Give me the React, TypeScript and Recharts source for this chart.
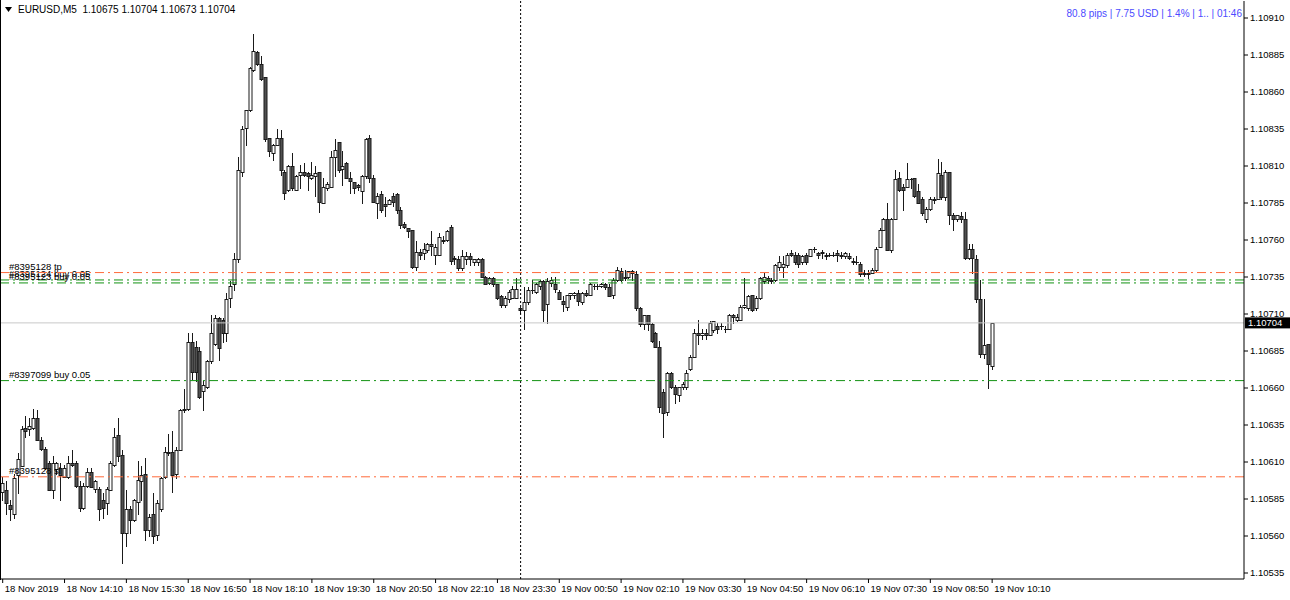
import React from 'react';
import { ComposedChart, Bar, XAxis, YAxis, ReferenceLine } from 'recharts';

// ---- data: EURUSD M5, one entry per bar (bar 0 = 18 Nov 12:50) ----
const opens = [
1.10590,1.10591,1.10581,1.10575,1.10601,1.10607,1.10633,1.10632,1.10633,1.10640,
1.10625,1.10619,1.10609,1.10591,1.10605,1.10606,1.10600,1.10600,1.10609,1.10609,
1.10594,1.10579,1.10594,1.10603,1.10592,1.10592,1.10584,1.10582,1.10591,1.10608,
1.10628,1.10615,1.10562,1.10578,1.10571,1.10583,1.10597,1.10602,1.10564,1.10575,
1.10561,1.10578,1.10600,1.10617,1.10617,1.10602,1.10618,1.10645,1.10646,1.10691,
1.10688,1.10685,1.10658,1.10661,1.10678,1.10690,1.10707,1.10706,1.10697,1.10721,
1.10730,1.10747,1.10806,1.10836,1.10848,1.10875,1.10887,1.10879,1.10870,1.10829,
1.10819,1.10824,1.10829,1.10806,1.10794,1.10810,1.10794,1.10804,1.10806,1.10805,
1.10802,1.10803,1.10806,1.10785,1.10795,1.10796,1.10816,1.10826,1.10808,1.10812,
1.10802,1.10799,1.10797,1.10793,1.10803,1.10829,1.10802,1.10785,1.10791,1.10784,
1.10784,1.10790,1.10791,1.10780,1.10771,1.10768,1.10767,1.10742,1.10752,1.10751,
1.10753,1.10757,1.10750,1.10750,1.10760,1.10760,1.10769,1.10748,1.10747,1.10741,
1.10747,1.10749,1.10745,1.10745,1.10747,1.10735,1.10731,1.10734,1.10730,1.10722,
1.10716,1.10720,1.10721,1.10721,1.10714,1.10713,1.10718,1.10726,1.10725,1.10729,
1.10732,1.10717,1.10731,1.10730,1.10725,1.10719,1.10715,1.10723,1.10723,1.10724,
1.10718,1.10724,1.10723,1.10729,1.10729,1.10729,1.10730,1.10728,1.10723,1.10733,
1.10739,1.10735,1.10735,1.10739,1.10737,1.10714,1.10703,1.10709,1.10703,1.10697,
1.10688,1.10657,1.10644,1.10670,1.10661,1.10655,1.10661,1.10661,1.10673,1.10681,
1.10697,1.10696,1.10697,1.10696,1.10699,1.10702,1.10702,1.10700,1.10700,1.10709,
1.10706,1.10706,1.10715,1.10714,1.10723,1.10714,1.10721,1.10732,1.10734,1.10733,
1.10733,1.10742,1.10742,1.10743,1.10751,1.10750,1.10750,1.10745,1.10750,1.10749,
1.10754,1.10751,1.10751,1.10750,1.10750,1.10750,1.10751,1.10750,1.10749,1.10749,
1.10746,1.10745,1.10744,1.10738,1.10738,1.10738,1.10740,1.10755,1.10767,1.10774,
1.10753,1.10774,1.10802,1.10796,1.10796,1.10801,1.10802,1.10793,1.10788,1.10774,
1.10781,1.10788,1.10788,1.10804,1.10789,1.10806,1.10777,1.10774,1.10776,1.10774,
1.10748,1.10754,1.10747,1.10720,1.10683,1.10690,1.10675];

const highs = [
1.10600,1.10597,1.10584,1.10602,1.10616,1.10634,1.10641,1.10640,1.10646,1.10645,
1.10627,1.10620,1.10611,1.10614,1.10610,1.10609,1.10608,1.10614,1.10618,1.10611,
1.10597,1.10596,1.10606,1.10606,1.10598,1.10593,1.10589,1.10593,1.10611,1.10633,
1.10640,1.10618,1.10591,1.10580,1.10585,1.10611,1.10607,1.10613,1.10575,1.10589,
1.10584,1.10600,1.10620,1.10629,1.10631,1.10620,1.10646,1.10659,1.10697,1.10697,
1.10692,1.10688,1.10665,1.10679,1.10709,1.10709,1.10708,1.10707,1.10724,1.10732,
1.10751,1.10816,1.10837,1.10848,1.10877,1.10899,1.10888,1.10884,1.10870,1.10829,
1.10825,1.10835,1.10834,1.10807,1.10811,1.10819,1.10804,1.10811,1.10812,1.10806,
1.10813,1.10810,1.10806,1.10802,1.10799,1.10820,1.10828,1.10826,1.10820,1.10813,
1.10806,1.10799,1.10798,1.10804,1.10829,1.10831,1.10804,1.10792,1.10793,1.10789,
1.10788,1.10792,1.10792,1.10782,1.10772,1.10768,1.10767,1.10759,1.10754,1.10758,
1.10758,1.10766,1.10757,1.10765,1.10763,1.10767,1.10770,1.10749,1.10749,1.10753,
1.10752,1.10751,1.10747,1.10748,1.10748,1.10736,1.10735,1.10735,1.10730,1.10723,
1.10722,1.10726,1.10729,1.10734,1.10715,1.10728,1.10728,1.10733,1.10731,1.10733,
1.10733,1.10734,1.10735,1.10735,1.10726,1.10722,1.10723,1.10724,1.10725,1.10726,
1.10725,1.10726,1.10731,1.10730,1.10730,1.10731,1.10731,1.10730,1.10734,1.10742,
1.10741,1.10740,1.10739,1.10740,1.10739,1.10715,1.10709,1.10709,1.10704,1.10698,
1.10692,1.10659,1.10671,1.10671,1.10662,1.10661,1.10664,1.10672,1.10682,1.10700,
1.10706,1.10700,1.10700,1.10705,1.10705,1.10704,1.10704,1.10702,1.10710,1.10710,
1.10710,1.10716,1.10734,1.10723,1.10723,1.10722,1.10735,1.10738,1.10736,1.10734,
1.10744,1.10749,1.10749,1.10751,1.10753,1.10752,1.10751,1.10750,1.10751,1.10754,
1.10755,1.10752,1.10753,1.10751,1.10751,1.10752,1.10753,1.10752,1.10752,1.10751,
1.10748,1.10749,1.10745,1.10740,1.10740,1.10741,1.10755,1.10768,1.10775,1.10785,
1.10775,1.10807,1.10806,1.10798,1.10812,1.10802,1.10802,1.10798,1.10789,1.10782,
1.10789,1.10789,1.10815,1.10813,1.10807,1.10806,1.10778,1.10777,1.10779,1.10779,
1.10757,1.10757,1.10750,1.10733,1.10720,1.10690,1.10704];

const lows = [
1.10584,1.10575,1.10571,1.10572,1.10589,1.10607,1.10627,1.10628,1.10632,1.10625,
1.10618,1.10605,1.10591,1.10586,1.10602,1.10584,1.10600,1.10599,1.10607,1.10593,
1.10577,1.10578,1.10593,1.10593,1.10590,1.10571,1.10572,1.10575,1.10591,1.10607,
1.10611,1.10542,1.10553,1.10562,1.10570,1.10575,1.10584,1.10557,1.10560,1.10555,
1.10557,1.10577,1.10599,1.10615,1.10590,1.10599,1.10618,1.10644,1.10645,1.10666,
1.10665,1.10653,1.10645,1.10660,1.10677,1.10689,1.10679,1.10691,1.10692,1.10715,
1.10726,1.10745,1.10803,1.10824,1.10847,1.10874,1.10878,1.10868,1.10827,1.10817,
1.10814,1.10824,1.10804,1.10788,1.10793,1.10794,1.10794,1.10795,1.10803,1.10794,
1.10801,1.10790,1.10779,1.10785,1.10794,1.10796,1.10803,1.10806,1.10797,1.10802,
1.10792,1.10792,1.10794,1.10785,1.10802,1.10799,1.10786,1.10775,1.10779,1.10776,
1.10784,1.10783,1.10778,1.10768,1.10768,1.10762,1.10741,1.10740,1.10747,1.10747,
1.10752,1.10750,1.10744,1.10750,1.10758,1.10759,1.10744,1.10744,1.10740,1.10740,
1.10744,1.10743,1.10743,1.10743,1.10735,1.10730,1.10730,1.10729,1.10720,1.10715,
1.10715,1.10718,1.10721,1.10721,1.10711,1.10700,1.10717,1.10724,1.10724,1.10727,
1.10705,1.10704,1.10729,1.10725,1.10720,1.10712,1.10713,1.10720,1.10721,1.10716,
1.10717,1.10722,1.10723,1.10727,1.10727,1.10728,1.10727,1.10722,1.10721,1.10732,
1.10732,1.10733,1.10734,1.10733,1.10713,1.10702,1.10700,1.10699,1.10691,1.10688,
1.10644,1.10627,1.10642,1.10660,1.10650,1.10651,1.10659,1.10659,1.10672,1.10681,
1.10690,1.10693,1.10693,1.10696,1.10698,1.10697,1.10700,1.10698,1.10700,1.10704,
1.10705,1.10706,1.10714,1.10713,1.10712,1.10713,1.10720,1.10731,1.10731,1.10731,
1.10732,1.10740,1.10735,1.10742,1.10749,1.10744,1.10742,1.10744,1.10744,1.10749,
1.10752,1.10748,1.10748,1.10747,1.10749,1.10749,1.10746,1.10748,1.10748,1.10747,
1.10744,1.10744,1.10736,1.10736,1.10734,1.10738,1.10739,1.10755,1.10767,1.10753,
1.10752,1.10774,1.10793,1.10780,1.10796,1.10795,1.10789,1.10785,1.10777,1.10772,
1.10780,1.10785,1.10788,1.10788,1.10787,1.10771,1.10767,1.10773,1.10772,1.10747,
1.10747,1.10738,1.10718,1.10681,1.10680,1.10660,1.10673];

const closes = [
1.10596,1.10582,1.10578,1.10599,1.10612,1.10632,1.10631,1.10634,1.10640,1.10625,
1.10619,1.10606,1.10591,1.10609,1.10609,1.10601,1.10606,1.10609,1.10608,1.10594,
1.10579,1.10594,1.10603,1.10593,1.10597,1.10578,1.10579,1.10592,1.10609,1.10627,
1.10614,1.10562,1.10578,1.10571,1.10584,1.10598,1.10601,1.10564,1.10573,1.10560,
1.10582,1.10599,1.10617,1.10616,1.10601,1.10618,1.10645,1.10646,1.10691,1.10671,
1.10671,1.10654,1.10662,1.10678,1.10697,1.10707,1.10687,1.10697,1.10720,1.10729,
1.10747,1.10807,1.10835,1.10848,1.10876,1.10888,1.10879,1.10869,1.10828,1.10820,
1.10824,1.10829,1.10807,1.10792,1.10810,1.10795,1.10803,1.10806,1.10804,1.10803,
1.10804,1.10805,1.10786,1.10796,1.10798,1.10816,1.10821,1.10807,1.10810,1.10802,
1.10800,1.10795,1.10796,1.10803,1.10828,1.10802,1.10786,1.10790,1.10780,1.10783,
1.10787,1.10786,1.10780,1.10770,1.10769,1.10766,1.10742,1.10752,1.10750,1.10754,
1.10757,1.10756,1.10755,1.10762,1.10759,1.10766,1.10746,1.10747,1.10741,1.10749,
1.10749,1.10747,1.10747,1.10747,1.10735,1.10730,1.10734,1.10730,1.10721,1.10716,
1.10721,1.10725,1.10727,1.10727,1.10713,1.10718,1.10726,1.10726,1.10730,1.10732,
1.10713,1.10732,1.10733,1.10727,1.10720,1.10717,1.10723,1.10724,1.10724,1.10719,
1.10724,1.10723,1.10730,1.10729,1.10729,1.10730,1.10728,1.10722,1.10733,1.10740,
1.10733,1.10734,1.10739,1.10738,1.10714,1.10703,1.10709,1.10703,1.10692,1.10688,
1.10647,1.10643,1.10670,1.10661,1.10656,1.10661,1.10663,1.10670,1.10681,1.10697,
1.10696,1.10697,1.10696,1.10704,1.10705,1.10700,1.10702,1.10700,1.10709,1.10708,
1.10708,1.10715,1.10716,1.10722,1.10713,1.10721,1.10734,1.10735,1.10733,1.10732,
1.10743,1.10745,1.10744,1.10750,1.10750,1.10745,1.10744,1.10749,1.10745,1.10754,
1.10754,1.10750,1.10752,1.10749,1.10750,1.10750,1.10750,1.10749,1.10751,1.10748,
1.10745,1.10745,1.10737,1.10737,1.10737,1.10740,1.10754,1.10767,1.10774,1.10753,
1.10774,1.10801,1.10794,1.10794,1.10801,1.10801,1.10790,1.10785,1.10778,1.10781,
1.10788,1.10787,1.10805,1.10789,1.10806,1.10777,1.10774,1.10777,1.10774,1.10748,
1.10754,1.10748,1.10720,1.10683,1.10689,1.10676,1.10704];

const xTickBars = [0, 16, 32, 48, 64, 80, 96, 112, 128, 144, 160, 176, 192, 208, 224, 240, 256];
const xTickLabels = [
  '18 Nov 2019', '18 Nov 14:10', '18 Nov 15:30', '18 Nov 16:50', '18 Nov 18:10',
  '18 Nov 19:30', '18 Nov 20:50', '18 Nov 22:10', '18 Nov 23:30', '19 Nov 00:50',
  '19 Nov 02:10', '19 Nov 03:30', '19 Nov 04:50', '19 Nov 06:10', '19 Nov 07:30',
  '19 Nov 08:50', '19 Nov 10:10',
];
const yTicks = [
  1.10535, 1.1056, 1.10585, 1.1061, 1.10635, 1.1066, 1.10685, 1.1071,
  1.10735, 1.1076, 1.10785, 1.1081, 1.10835, 1.1086, 1.10885, 1.1091,
];

// order lines
const tpLevels = [1.10738];
const tpLabels = ['#8395128 tp'];
const buyLevels = [1.10733, 1.10731, 1.10665];
const buyLabels = ['#8395124 buy 0.05', '#8395123 buy 0.05', '#8397099 buy 0.05'];
const slLevels = [1.106];
const slLabels = ['#8395128 sl'];
const bidPrice = 1.10704;
const daySeparatorBar = 134; // 19 Nov 00:00

const title = 'EURUSD,M5  1.10675 1.10704 1.10673 1.10704';
const info = '80.8 pips | 7.75 USD | 1.4% | 1.. | 01:46';

const data = opens.map((o, i) => ({
  i,
  o,
  h: highs[i],
  l: lows[i],
  c: closes[i],
  range: [lows[i], highs[i]],
}));

const FONT = "'Liberation Sans', Arial, sans-serif";
const ORANGE = '#ff6a3a';
const GREEN = '#139213';
const DASHDOT = '9 4 2 4';

function Candle(props: any) {
  const { x, y, width, height, payload } = props;
  if (x == null || y == null || !payload) return null;
  const top = Math.min(y, y + height);
  const bot = Math.max(y, y + height);
  const { o, h, l, c } = payload;
  const span = h - l;
  const k = span > 0 ? (bot - top) / span : 0;
  const py = (p: number) => top + (h - p) * k;
  const cx = Math.round(x + width / 2) + 0.5;
  const bTop = Math.round(py(Math.max(o, c))) + 0.5;
  const bBot = Math.round(py(Math.min(o, c))) + 0.5;
  const bull = c >= o;
  return (
    <g>
      <line x1={cx} x2={cx} y1={Math.round(top)} y2={Math.round(bot) + 1} stroke="#1a1a1a" strokeWidth={1} shapeRendering="crispEdges" />
      {bBot - bTop < 1 ? (
        <line x1={cx - 2} x2={cx + 2} y1={bTop} y2={bTop} stroke="#1a1a1a" strokeWidth={1} shapeRendering="crispEdges" />
      ) : (
        <rect x={cx - 1.5} y={bTop} width={3} height={bBot - bTop} fill={bull ? '#ffffff' : '#505050'} stroke="#1a1a1a" strokeWidth={1} />
      )}
    </g>
  );
}

const XTick = (p: any) => {
  const idx = xTickBars.indexOf(p.payload.value);
  const label = idx >= 0 ? xTickLabels[idx] : '';
  return (
    <text x={p.x + 2} y={p.y + 9} fontSize={9.5} fontFamily={FONT} fill="#000" textAnchor="start">
      {label}
    </text>
  );
};

const orderLabel = (text: string) => (props: any) => {
  const vb = props.viewBox || {};
  return (
    <text x={(vb.x || 0) + 8} y={(vb.y || 0) - 3} fontSize={9.5} fontFamily={FONT} fill="#000">
      {text}
    </text>
  );
};

const bidLabel = (props: any) => {
  const vb = props.viewBox || {};
  const x0 = (vb.x || 0) + (vb.width || 0) + 1;
  const y0 = vb.y || 0;
  return (
    <g>
      <rect x={x0} y={y0 - 5.5} width={45} height={11} fill="#000" />
      <text x={x0 + 3} y={y0 + 3.5} fontSize={9.5} fontFamily={FONT} fill="#fff">
        {bidPrice.toFixed(5)}
      </text>
    </g>
  );
};

export default function App() {
  return (
    <div style={{ position: 'absolute', left: 0, top: 0, width: 1290, height: 600, background: '#fff', overflow: 'hidden', fontFamily: FONT }}>
      <ComposedChart width={1290} height={600} data={data} margin={{ top: 1, right: 0, bottom: 0, left: 1 }}>
        <XAxis
          dataKey="i"
          type="number"
          domain={[-0.44, 321.16]}
          allowDataOverflow
          ticks={xTickBars}
          interval={0}
          height={21}
          tickSize={4}
          tickMargin={0}
          axisLine={{ stroke: '#000' }}
          tickLine={{ stroke: '#000' }}
          tick={<XTick />}
        />
        <YAxis
          orientation="right"
          type="number"
          domain={[1.1053095, 1.1092149]}
          allowDataOverflow
          ticks={yTicks}
          interval={0}
          width={46}
          tickSize={4}
          tickMargin={2}
          axisLine={{ stroke: '#000' }}
          tickLine={{ stroke: '#000' }}
          tick={{ fontSize: 9.5, fontFamily: FONT, fill: '#000' }}
          tickFormatter={(v: number) => v.toFixed(5)}
        />
        <ReferenceLine x={daySeparatorBar} stroke="#000" strokeDasharray="2 2" />
        <ReferenceLine y={bidPrice} stroke="#c8c8c8" label={bidLabel} />
        {slLevels.map((v, k) => (
          <ReferenceLine key={'sl' + k} y={v} stroke={ORANGE} strokeDasharray={DASHDOT} label={orderLabel(slLabels[k])} />
        ))}
        {buyLevels.map((v, k) => (
          <ReferenceLine key={'b' + k} y={v} stroke={GREEN} strokeDasharray={DASHDOT} label={orderLabel(buyLabels[k])} />
        ))}
        {tpLevels.map((v, k) => (
          <ReferenceLine key={'tp' + k} y={v} stroke={ORANGE} strokeDasharray={DASHDOT} label={orderLabel(tpLabels[k])} />
        ))}
        <Bar dataKey="range" barSize={3} isAnimationActive={false} shape={<Candle />} />
      </ComposedChart>
      <div style={{ position: 'absolute', left: 0, top: 0, width: 1, height: 580, background: '#000' }} />
      <svg style={{ position: 'absolute', left: 5, top: 7 }} width={8} height={6}>
        <polygon points="0,0 7,0 3.5,5" fill="#000" />
      </svg>
      <div style={{ position: 'absolute', left: 18, top: 4, fontSize: 10, color: '#000', whiteSpace: 'pre', lineHeight: '12px' }}>
        {title}
      </div>
      <div style={{ position: 'absolute', right: 1290 - 1242, top: 8, fontSize: 10, color: '#4b4bff', whiteSpace: 'pre', lineHeight: '12px' }}>
        {info}
      </div>
    </div>
  );
}
